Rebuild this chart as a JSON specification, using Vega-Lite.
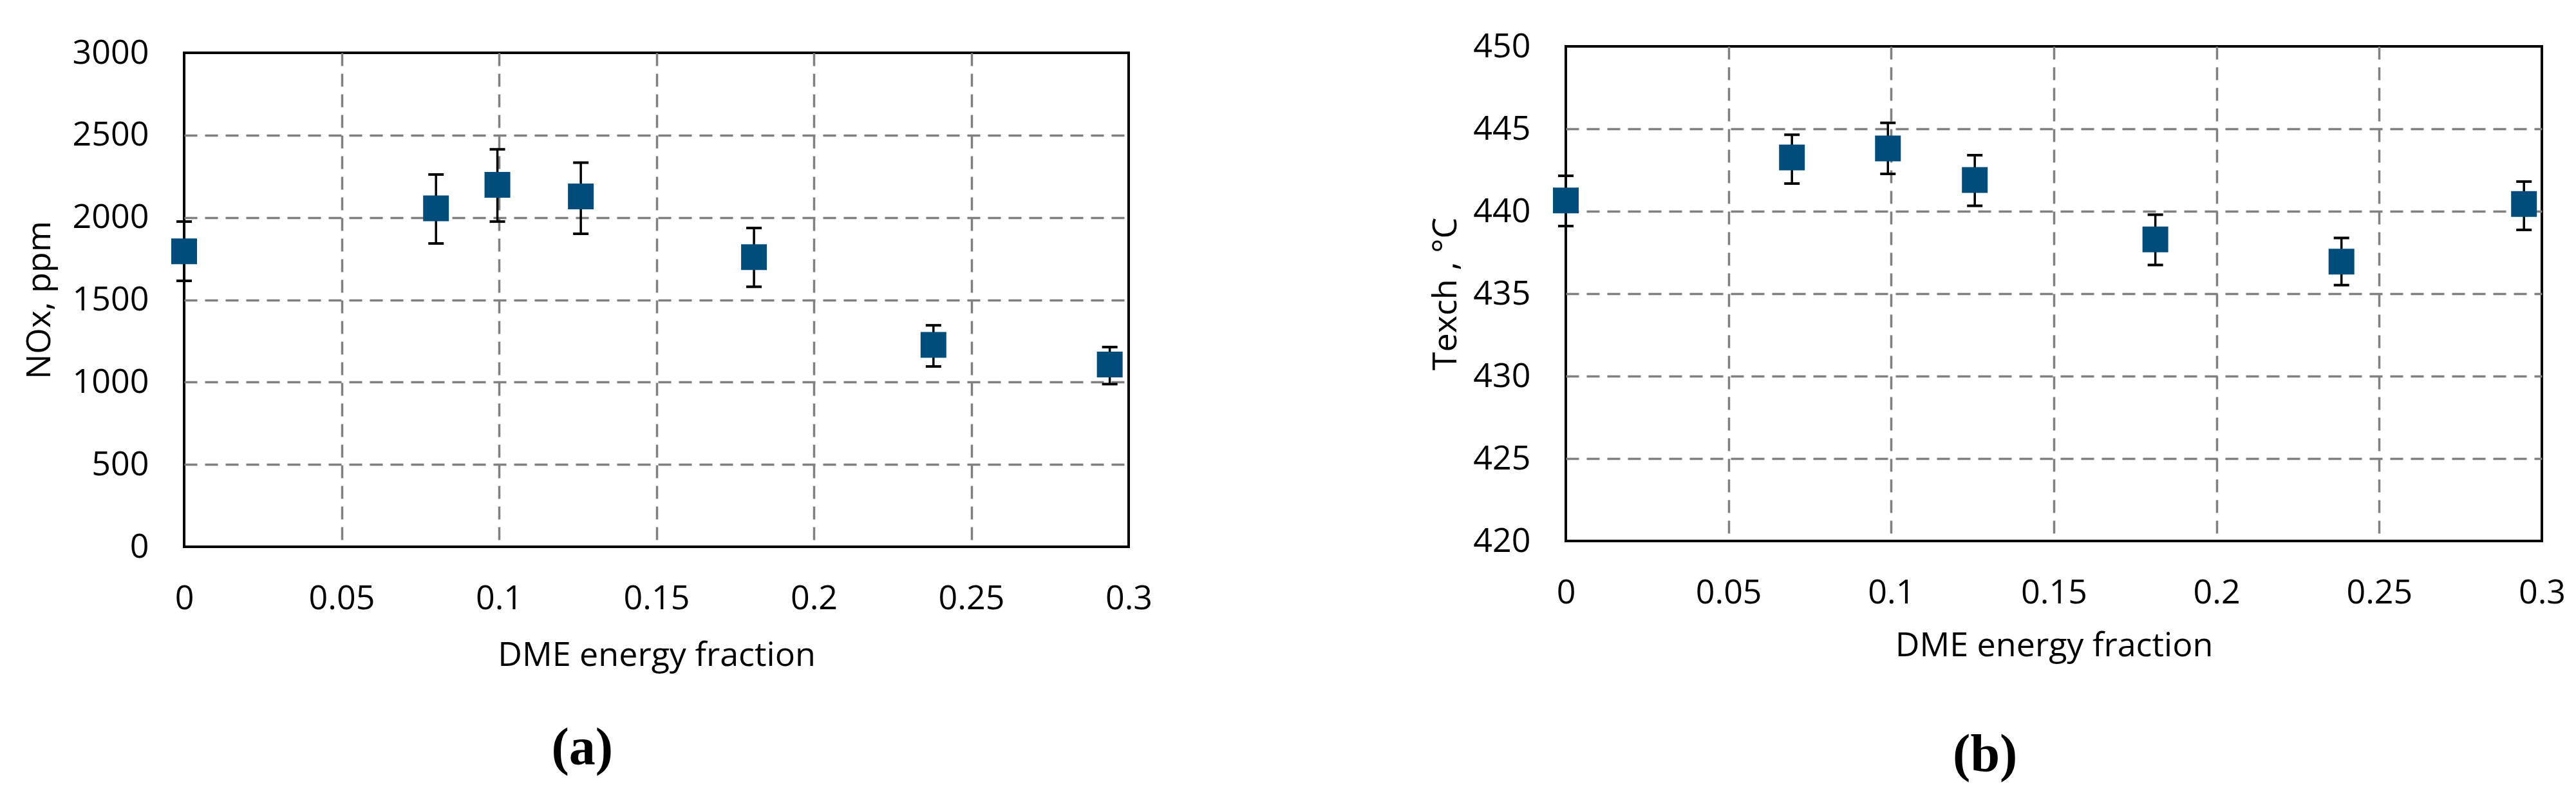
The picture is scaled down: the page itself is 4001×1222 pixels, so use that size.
{
  "$schema": "https://vega.github.io/schema/vega-lite/v6.json",
  "background": "white",
  "padding": {"left": 33, "top": 22, "right": 5, "bottom": 5},
  "spacing": 425,
  "center": true,
  "datasets": {
    "nox": [
      {"fraction": 0, "value": 1794, "lower": 1615, "upper": 1975},
      {"fraction": 0.08, "value": 2055, "lower": 1842, "upper": 2261},
      {"fraction": 0.0995, "value": 2198, "lower": 1975, "upper": 2414},
      {"fraction": 0.126, "value": 2128, "lower": 1901, "upper": 2333},
      {"fraction": 0.181, "value": 1759, "lower": 1579, "upper": 1936},
      {"fraction": 0.238, "value": 1226, "lower": 1095, "upper": 1345},
      {"fraction": 0.294, "value": 1107, "lower": 988, "upper": 1213}
    ],
    "texh": [
      {"fraction": 0, "value": 440.65, "lower": 439.1, "upper": 442.15},
      {"fraction": 0.0695, "value": 443.26, "lower": 441.68, "upper": 444.64},
      {"fraction": 0.099, "value": 443.81, "lower": 442.27, "upper": 445.36},
      {"fraction": 0.1257, "value": 441.89, "lower": 440.33, "upper": 443.4},
      {"fraction": 0.1812, "value": 438.29, "lower": 436.74, "upper": 439.79},
      {"fraction": 0.2384, "value": 436.94, "lower": 435.52, "upper": 438.38},
      {"fraction": 0.2945, "value": 440.44, "lower": 438.87, "upper": 441.8}
    ]
  },
  "hconcat": [
    {
      "width": 1467,
      "height": 767,
      "data": {"name": "nox"},
      "title": {"text": "(a)", "orient": "bottom", "anchor": "middle", "frame": "bounds", "offset": 79, "dx": -8, "font": "Liberation Serif", "fontSize": 82, "fontWeight": "bold", "color": "black"},
      "resolve": {"axis": {"x": "independent", "y": "independent"}},
      "layer": [
        {
          "mark": {"type": "rule", "color": "black", "strokeWidth": 3.5},
          "encoding": {
            "x": {"field": "fraction", "type": "quantitative", "scale": {"domain": [0, 0.3], "nice": false, "zero": false}, "axis": null},
            "y": {"field": "lower", "type": "quantitative", "scale": {"domain": [0, 3000], "nice": false}, "axis": null},
            "y2": {"field": "upper"}
          }
        },
        {
          "mark": {"type": "tick", "orient": "horizontal", "size": 24, "thickness": 4, "color": "black", "opacity": 1},
          "encoding": {
            "x": {"field": "fraction", "type": "quantitative", "scale": {"domain": [0, 0.3], "nice": false, "zero": false}, "axis": null},
            "y": {"field": "lower", "type": "quantitative", "scale": {"domain": [0, 3000], "nice": false}, "axis": null}
          }
        },
        {
          "mark": {"type": "tick", "orient": "horizontal", "size": 24, "thickness": 4, "color": "black", "opacity": 1},
          "encoding": {
            "x": {"field": "fraction", "type": "quantitative", "scale": {"domain": [0, 0.3], "nice": false, "zero": false},
              "axis": {"orient": "top", "labels": false, "domain": false, "grid": false, "ticks": true, "tickSize": 58, "tickOpacity": 0, "title": null, "values": [0]}},
            "y": {"field": "upper", "type": "quantitative", "scale": {"domain": [0, 3000], "nice": false}, "axis": null}
          }
        },
        {
          "mark": {"type": "square", "size": 1600, "color": "#004C7B", "opacity": 1},
          "encoding": {
            "x": {"field": "fraction", "type": "quantitative", "scale": {"domain": [0, 0.3], "nice": false, "zero": false},
              "axis": {"orient": "bottom", "title": "DME energy fraction", "titlePadding": 37, "values": [0, 0.05, 0.1, 0.15, 0.2, 0.25, 0.3], "format": "~g", "grid": true,
                "gridOpacity": {"condition": {"test": "datum.value <= 0 || datum.value >= 0.2999", "value": 0}, "value": 1}}},
            "y": {"field": "value", "type": "quantitative", "scale": {"domain": [0, 3000], "nice": false},
              "axis": {"orient": "left", "title": "NOx, ppm", "titlePadding": 24, "values": [0, 500, 1000, 1500, 2000, 2500, 3000], "format": "d", "grid": true,
                "gridOpacity": {"condition": {"test": "datum.value <= 0 || datum.value >= 3000", "value": 0}, "value": 1}}}
          }
        }
      ]
    },
    {
      "width": 1516,
      "height": 768,
      "data": {"name": "texh"},
      "title": {"text": "(b)", "orient": "bottom", "anchor": "middle", "frame": "bounds", "offset": 104, "dx": -19, "font": "Liberation Serif", "fontSize": 82, "fontWeight": "bold", "color": "black"},
      "resolve": {"axis": {"x": "independent", "y": "independent"}},
      "layer": [
        {
          "mark": {"type": "rule", "color": "black", "strokeWidth": 3.5},
          "encoding": {
            "x": {"field": "fraction", "type": "quantitative", "scale": {"domain": [0, 0.3], "nice": false, "zero": false}, "axis": null},
            "y": {"field": "lower", "type": "quantitative", "scale": {"domain": [420, 450], "nice": false, "zero": false}, "axis": null},
            "y2": {"field": "upper"}
          }
        },
        {
          "mark": {"type": "tick", "orient": "horizontal", "size": 24, "thickness": 4, "color": "black", "opacity": 1},
          "encoding": {
            "x": {"field": "fraction", "type": "quantitative", "scale": {"domain": [0, 0.3], "nice": false, "zero": false}, "axis": null},
            "y": {"field": "lower", "type": "quantitative", "scale": {"domain": [420, 450], "nice": false, "zero": false}, "axis": null}
          }
        },
        {
          "mark": {"type": "tick", "orient": "horizontal", "size": 24, "thickness": 4, "color": "black", "opacity": 1},
          "encoding": {
            "x": {"field": "fraction", "type": "quantitative", "scale": {"domain": [0, 0.3], "nice": false, "zero": false}, "axis": null},
            "y": {"field": "upper", "type": "quantitative", "scale": {"domain": [420, 450], "nice": false, "zero": false}, "axis": null}
          }
        },
        {
          "mark": {"type": "square", "size": 1600, "color": "#004C7B", "opacity": 1},
          "encoding": {
            "x": {"field": "fraction", "type": "quantitative", "scale": {"domain": [0, 0.3], "nice": false, "zero": false},
              "axis": {"orient": "bottom", "title": "DME energy fraction", "titlePadding": 31, "values": [0, 0.05, 0.1, 0.15, 0.2, 0.25, 0.3], "format": "~g", "grid": true,
                "gridOpacity": {"condition": {"test": "datum.value <= 0 || datum.value >= 0.2999", "value": 0}, "value": 1}}},
            "y": {"field": "value", "type": "quantitative", "scale": {"domain": [420, 450], "nice": false, "zero": false},
              "axis": {"orient": "left", "title": "Texch , °C", "titlePadding": 15, "values": [420, 425, 430, 435, 440, 445, 450], "format": "d", "grid": true,
                "gridOpacity": {"condition": {"test": "datum.value <= 420 || datum.value >= 450", "value": 0}, "value": 1}}}
          }
        }
      ]
    }
  ],
  "config": {
    "view": {"stroke": "black", "strokeWidth": 4},
    "axis": {
      "labelFont": "Open Sans", "labelFontSize": 52, "labelColor": "black",
      "titleFont": "Open Sans", "titleFontSize": 52, "titleFontWeight": "normal", "titleColor": "black",
      "domain": false, "ticks": false, "tickSize": 0, "labelPadding": 55,
      "labelFlush": false, "labelOverlap": false,
      "gridColor": "#808080", "gridWidth": 3.5, "gridDash": [20, 12]
    }
  }
}
